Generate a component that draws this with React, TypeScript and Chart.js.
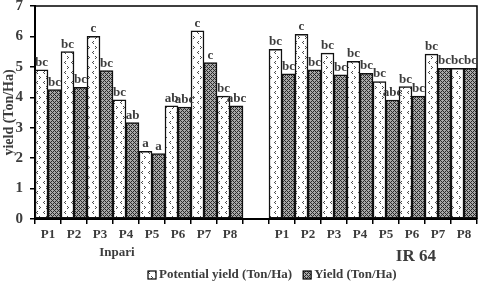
import React, { useEffect, useRef } from 'react';
import { Chart, registerables } from 'chart.js';

Chart.register(...registerables);

const categories = ['P1', 'P2', 'P3', 'P4', 'P5', 'P6', 'P7', 'P8', '', 'P1', 'P2', 'P3', 'P4', 'P5', 'P6', 'P7', 'P8'];
const groupNames = ['Inpari', 'IR 64'];
const potentialYield = [4.9, 5.5, 6.0, 3.92, 2.22, 3.72, 6.18, 4.04, null, 5.58, 6.07, 5.45, 5.18, 4.52, 4.35, 5.42, 4.95];
const actualYield = [4.25, 4.33, 4.88, 3.17, 2.15, 3.68, 5.14, 3.72, null, 4.77, 4.9, 4.74, 4.79, 3.91, 4.04, 4.95, 4.95];
const potentialLetters = ['bc', 'bc', 'c', 'bc', 'a', 'ab', 'c', 'bc', '', 'bc', 'c', 'bc', 'bc', 'bc', 'bc', 'bc', 'bc'];
const yieldLetters = ['bc', 'bc', 'bc', 'ab', 'a', 'abc', 'c', 'abc', '', 'bc', 'bc', 'bc', 'bc', 'abc', 'bc', 'bc', 'bc'];
const seriesNames = ['Potential yield (Ton/Ha)', 'Yield (Ton/Ha)'];
const yTitle = 'yield (Ton/Ha)';

const FONT = '"Liberation Serif", "Times New Roman", serif';
const TEXT = '#3c3c3c';

function makeDotPattern(): CanvasPattern | string {
  const c = document.createElement('canvas');
  c.width = 7;
  c.height = 10;
  const g = c.getContext('2d');
  if (!g) return '#fff';
  g.fillStyle = '#ffffff';
  g.fillRect(0, 0, 7, 10);
  g.fillStyle = '#4a4a4a';
  g.fillRect(2, 1, 1, 1);
  g.fillRect(1, 2, 1, 1);
  g.fillRect(2, 3, 1, 1);
  g.fillRect(4, 6, 1, 1);
  g.fillRect(5, 7, 1, 1);
  g.fillRect(4, 8, 1, 1);
  return g.createPattern(c, 'repeat') || '#fff';
}

function makeHatchPattern(): CanvasPattern | string {
  const c = document.createElement('canvas');
  c.width = 4;
  c.height = 4;
  const g = c.getContext('2d');
  if (!g) return '#888';
  g.fillStyle = '#a8a8a8';
  g.fillRect(0, 0, 4, 4);
  g.fillStyle = '#2a2a2a';
  for (let x = 0; x < 4; x++) {
    for (let y = 0; y < 4; y++) {
      if ((x + y) % 4 === 0 || (x - y + 4) % 4 === 0) g.fillRect(x, y, 1, 1);
    }
  }
  return g.createPattern(c, 'repeat') || '#888';
}

export default function App() {
  const ref = useRef<HTMLCanvasElement | null>(null);

  useEffect(() => {
    document.body.style.margin = '0';
    const canvas = ref.current;
    if (!canvas) return;
    const dotPat = makeDotPattern();
    const hatchPat = makeHatchPattern();
    const letters = [potentialLetters, yieldLetters];
    const pats = [dotPat, hatchPat];

    const decor = {
      id: 'decor',
      afterDraw(chart: any) {
        const ctx = chart.ctx;
        const area = chart.chartArea;
        ctx.save();
        ctx.strokeStyle = '#000';
        ctx.lineWidth = 1.5;
        ctx.beginPath();
        ctx.moveTo(area.left, area.top);
        ctx.lineTo(area.right, area.top);
        ctx.lineTo(area.right, area.bottom);
        ctx.stroke();

        ctx.font = `bold 13px ${FONT}`;
        ctx.fillStyle = TEXT;
        ctx.textAlign = 'center';
        ctx.textBaseline = 'alphabetic';
        for (let d = 0; d < 2; d++) {
          const meta = chart.getDatasetMeta(d);
          meta.data.forEach((bar: any, i: number) => {
            const t = letters[d][i];
            if (!t) return;
            ctx.fillText(t, bar.x, bar.y - 4);
          });
        }

        const xs = chart.scales.x;
        ctx.font = `bold 13px ${FONT}`;
        ctx.textBaseline = 'middle';
        ctx.fillText(groupNames[0], xs.getPixelForValue(2.65), 253);
        ctx.font = `bold 17px ${FONT}`;
        ctx.fillText(groupNames[1], xs.getPixelForValue(14.15), 257);

        ctx.font = `bold 14px ${FONT}`;
        ctx.translate(9, (area.top + area.bottom) / 2);
        ctx.rotate(-Math.PI / 2);
        ctx.fillText(yTitle, 0, 0);
        ctx.setTransform(1, 0, 0, 1, 0, 0);

        ctx.font = `bold 13px ${FONT}`;
        ctx.textAlign = 'left';
        ctx.textBaseline = 'middle';
        let x = 148;
        const y = 275;
        for (let d = 0; d < 2; d++) {
          ctx.fillStyle = pats[d] as any;
          ctx.fillRect(x, y - 4, 8, 8);
          ctx.strokeStyle = '#000';
          ctx.lineWidth = 1.2;
          ctx.strokeRect(x, y - 4, 8, 8);
          ctx.fillStyle = TEXT;
          ctx.fillText(seriesNames[d], x + 11, y);
          x += 11 + ctx.measureText(seriesNames[d]).width + 11;
        }
        ctx.restore();
      },
    };

    const chart = new Chart(canvas, {
      type: 'bar',
      data: {
        labels: categories,
        datasets: [
          {
            label: seriesNames[0],
            data: potentialYield as any,
            backgroundColor: dotPat as any,
            borderColor: '#111',
            borderWidth: 1.5,
            borderSkipped: false,
          },
          {
            label: seriesNames[1],
            data: actualYield as any,
            backgroundColor: hatchPat as any,
            borderColor: '#111',
            borderWidth: 1.5,
            borderSkipped: false,
          },
        ],
      },
      options: {
        responsive: false,
        animation: false,
        layout: { padding: { top: 6, right: 3, left: 0, bottom: 0 } },
        datasets: { bar: { categoryPercentage: 1, barPercentage: 1 } },
        plugins: { legend: { display: false }, tooltip: { enabled: false } },
        scales: {
          x: {
            afterFit: (s: any) => { s.height = 64; s.paddingLeft = 0; s.paddingRight = 0; },
            grid: { drawOnChartArea: false, tickLength: 5, color: '#000', lineWidth: 1.5 },
            border: { color: '#000', width: 2 },
            ticks: { color: TEXT, font: { family: FONT, size: 13, weight: 'bold' }, padding: 3, maxRotation: 0, autoSkip: false },
          },
          y: {
            min: 0,
            max: 7,
            afterFit: (s: any) => { s.width = 35; s.paddingTop = 0; s.paddingBottom = 0; },
            grid: { drawOnChartArea: false, tickLength: 5, color: '#000', lineWidth: 1.5 },
            border: { color: '#000', width: 2 },
            ticks: { stepSize: 1, color: TEXT, font: { family: FONT, size: 15, weight: 'bold' }, padding: 7 },
          },
        },
      },
      plugins: [decor],
    } as any);
    return () => chart.destroy();
  }, []);

  return (
    <div style={{ position: 'absolute', left: 0, top: 0, width: 480, height: 283, background: '#fff' }}>
      <canvas ref={ref} width={480} height={283} />
    </div>
  );
}
